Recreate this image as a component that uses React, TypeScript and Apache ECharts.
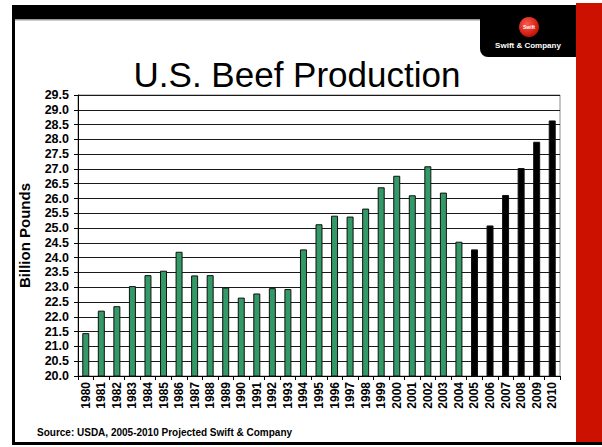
import React, { useEffect, useRef } from "react";
import * as echarts from "echarts";

const years = [
  "1980","1981","1982","1983","1984","1985","1986","1987","1988","1989",
  "1990","1991","1992","1993","1994","1995","1996","1997","1998","1999",
  "2000","2001","2002","2003","2004","2005","2006","2007","2008","2009","2010",
];
const production = [
  21.45, 22.21, 22.36, 23.04, 23.41, 23.56, 24.2, 23.4, 23.41, 22.99,
  22.65, 22.79, 22.97, 22.94, 24.28, 25.13, 25.42, 25.39, 25.66, 26.38,
  26.77, 26.11, 27.09, 26.2, 24.54, 24.28, 25.09, 26.12, 27.03, 27.92, 28.64,
];
const firstProjectedYear = "2005";
const titleText = "U.S. Beef Production";
const yAxisName = "Billion Pounds";
const sourceText = "Source: USDA, 2005-2010 Projected Swift & Company";
const logoText = "Swift & Company";

const FONT = "'Liberation Sans', Arial, Helvetica, sans-serif";

export default function App() {
  const ref = useRef<HTMLDivElement>(null);
  useEffect(() => {
    if (!ref.current) return;
    const chart = echarts.init(ref.current, null, { renderer: "svg" });
    const projIdx = years.indexOf(firstProjectedYear);
    chart.setOption({
      animation: false,
      backgroundColor: "#ffffff",
      grid: {
        left: 78,
        right: 42,
        top: 95,
        bottom: 71,
        show: true,
        borderColor: "#8a8a8a",
        borderWidth: 1,
      },
      xAxis: {
        type: "category",
        data: years,
        axisLine: { lineStyle: { color: "#000", width: 1 } },
        axisTick: { show: true, length: 4, lineStyle: { color: "#000" } },
        axisLabel: {
          interval: 0,
          rotate: 90,
          margin: 6,
          color: "#000",
          fontFamily: FONT,
          fontWeight: "bold",
          fontSize: 12,
        },
      },
      yAxis: {
        type: "value",
        min: 20,
        max: 29.5,
        interval: 0.5,
        name: yAxisName,
        nameLocation: "middle",
        nameGap: 46,
        nameRotate: 90,
        nameTextStyle: {
          color: "#000",
          fontFamily: FONT,
          fontWeight: "bold",
          fontSize: 15,
        },
        axisLine: { show: true, lineStyle: { color: "#000", width: 1 } },
        axisTick: { show: true, length: 4, lineStyle: { color: "#000" } },
        axisLabel: {
          margin: 9,
          color: "#000",
          fontFamily: FONT,
          fontWeight: "bold",
          fontSize: 12.5,
          formatter: (v: number) => v.toFixed(1),
        },
        splitLine: { show: true, lineStyle: { color: "#1a1a1a", width: 1 } },
      },
      series: [
        {
          type: "bar",
          barWidth: "45%",
          data: production.map((v, i) => ({
            value: v,
            itemStyle: {
              color: i >= projIdx ? "#000000" : "#339966",
              borderColor: "#111",
              borderWidth: 1,
            },
          })),
        },
      ],
      graphic: [
        // slide frame
        { type: "rect", shape: { x: 576, y: 3, width: 26, height: 440 }, style: { fill: "#cc1100" }, silent: true },
        { type: "rect", shape: { x: 12, y: 5, width: 564, height: 14 }, style: { fill: "#000" }, silent: true },
        { type: "rect", shape: { x: 15, y: 19, width: 558, height: 1.5 }, style: { fill: "#9a9a9a" }, silent: true },
        { type: "rect", shape: { x: 12, y: 5, width: 3, height: 440 }, style: { fill: "#000" }, silent: true },
        { type: "rect", shape: { x: 12, y: 442, width: 590, height: 3 }, style: { fill: "#000" }, silent: true },
        // logo tab
        { type: "rect", shape: { x: 480, y: 5, width: 96, height: 52, r: [0, 0, 0, 8] }, style: { fill: "#000" }, silent: true },
        {
          type: "circle",
          shape: { cx: 529, cy: 27, r: 10 },
          style: {
            fill: new echarts.graphic.RadialGradient(0.4, 0.35, 0.7, [
              { offset: 0, color: "#ff5a4a" },
              { offset: 1, color: "#c00a00" },
            ]),
          },
          silent: true,
        },
        {
          type: "text",
          x: 529,
          y: 27,
          style: { text: "Swift", fill: "#fff", font: `bold 5px ${FONT}`, align: "center", verticalAlign: "middle" },
          silent: true,
        },
        {
          type: "text",
          x: 528,
          y: 45,
          style: { text: logoText, fill: "#fff", font: `bold 8px ${FONT}`, align: "center", verticalAlign: "middle" },
          silent: true,
        },
        // title
        {
          type: "text",
          x: 297,
          y: 74,
          style: { text: titleText, fill: "#000", font: `35px ${FONT}`, align: "center", verticalAlign: "middle" },
          silent: true,
        },
        // source
        {
          type: "text",
          x: 37,
          y: 432,
          style: { text: sourceText, fill: "#000", font: `bold 10px ${FONT}`, align: "left", verticalAlign: "middle" },
          silent: true,
        },
      ],
    });
    return () => chart.dispose();
  }, []);
  return <div ref={ref} style={{ width: 602, height: 447, position: "absolute", left: 0, top: 0 }} />;
}
